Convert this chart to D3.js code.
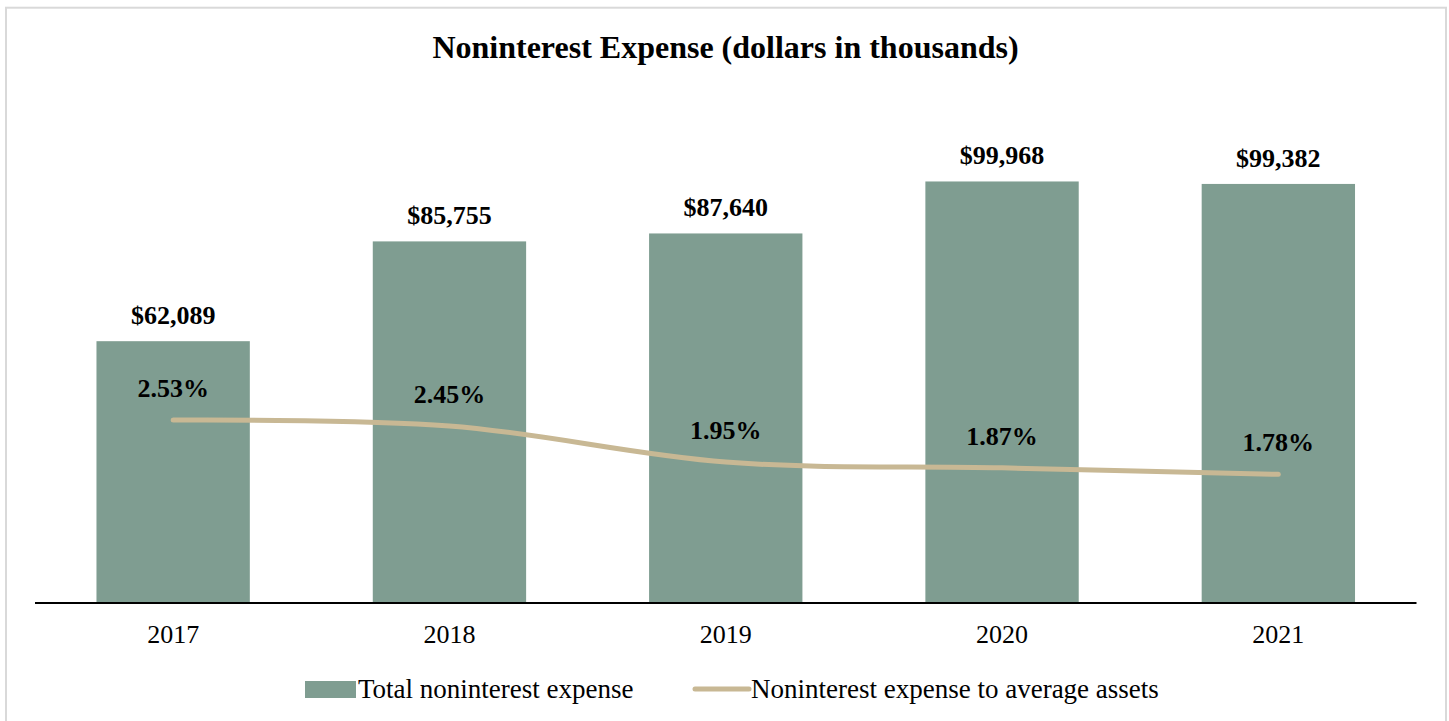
<!DOCTYPE html>
<html>
<head>
<meta charset="utf-8">
<script src="https://cdn.jsdelivr.net/npm/d3@7/dist/d3.min.js"></script>
<style>
  html, body { margin: 0; padding: 0; background: #ffffff; }
  svg { display: block; }
  text { font-family: "Liberation Serif", "Times New Roman", serif; fill: #000; }
</style>
</head>
<body>
<svg id="chart" width="1449" height="721"></svg>
<script>
// Noninterest expense, dollars in thousands, with ratio to average assets
const years = ["2017", "2018", "2019", "2020", "2021"];
const expense = [62089, 85755, 87640, 99968, 99382];
const ratioPct = [2.53, 2.45, 1.95, 1.87, 1.78];
const seriesNames = ["Total noninterest expense", "Noninterest expense to average assets"];
const chartTitle = "Noninterest Expense (dollars in thousands)";

const W = 1449, H = 721;
const plot = { left: 35, right: 1416.5, top: 97, bottom: 603 };
const barColor = "#7f9d91";
const lineColor = "#c8b894";

const svg = d3.select("#chart");

// outer frame
svg.append("rect")
  .attr("x", 6).attr("y", 7.7)
  .attr("width", 1440).attr("height", 720)
  .attr("fill", "none")
  .attr("stroke", "#d9d9d9")
  .attr("stroke-width", 2);

svg.append("text")
  .attr("x", 725.5).attr("y", 58)
  .attr("text-anchor", "middle")
  .attr("font-size", 32)
  .attr("font-weight", "bold")
  .text(chartTitle);

const x = d3.scaleBand()
  .domain(years)
  .range([plot.left, plot.right])
  .paddingInner(0.445)
  .paddingOuter(0.2225);

const y = d3.scaleLinear().domain([0, 120000]).range([plot.bottom, plot.top]);
const y2 = d3.scaleLinear().domain([0, 7]).range([plot.bottom, plot.top]);

const rows = years.map((yr, i) => ({ year: yr, expense: expense[i], ratio: ratioPct[i] }));

// bars
svg.append("g").selectAll("rect")
  .data(rows)
  .join("rect")
  .attr("x", d => x(d.year))
  .attr("y", d => y(d.expense))
  .attr("width", x.bandwidth())
  .attr("height", d => y(0) - y(d.expense))
  .attr("fill", barColor);

// category axis
const xAxis = svg.append("g")
  .attr("transform", `translate(0,${plot.bottom})`)
  .call(d3.axisBottom(x).tickSize(0).tickPadding(0).tickSizeOuter(0));
xAxis.select(".domain")
  .attr("stroke", "#000")
  .attr("stroke-width", 2)
  .attr("d", `M${plot.left},0H${plot.right}`);
xAxis.selectAll(".tick text")
  .attr("font-size", 26)
  .attr("font-family", "Liberation Serif, Times New Roman, serif")
  .attr("fill", "#000")
  .attr("dy", null)
  .attr("y", 40);

// smoothed ratio line
const line = d3.line()
  .x(d => x(d.year) + x.bandwidth() / 2)
  .y(d => y2(d.ratio))
  .curve(d3.curveCardinal.tension(0));

svg.append("path")
  .datum(rows)
  .attr("d", line)
  .attr("fill", "none")
  .attr("stroke", lineColor)
  .attr("stroke-width", 5)
  .attr("stroke-linecap", "round");

// value labels
const fmt = d3.format(",");
svg.append("g").selectAll("text")
  .data(rows)
  .join("text")
  .attr("x", d => x(d.year) + x.bandwidth() / 2)
  .attr("y", d => y(d.expense) - 17)
  .attr("text-anchor", "middle")
  .attr("font-size", 26)
  .attr("font-weight", "bold")
  .text(d => "$" + fmt(d.expense));

svg.append("g").selectAll("text")
  .data(rows)
  .join("text")
  .attr("x", d => x(d.year) + x.bandwidth() / 2)
  .attr("y", d => y2(d.ratio) - 23)
  .attr("text-anchor", "middle")
  .attr("font-size", 26)
  .attr("font-weight", "bold")
  .text(d => d.ratio.toFixed(2) + "%");

// legend
const legend = svg.append("g");
legend.append("rect")
  .attr("x", 305).attr("y", 681)
  .attr("width", 51).attr("height", 17)
  .attr("fill", barColor);
legend.append("text")
  .attr("x", 358).attr("y", 698)
  .attr("font-size", 27)
  .text(seriesNames[0]);
legend.append("line")
  .attr("x1", 695).attr("x2", 749)
  .attr("y1", 689).attr("y2", 689)
  .attr("stroke", lineColor)
  .attr("stroke-width", 5)
  .attr("stroke-linecap", "round");
legend.append("text")
  .attr("x", 751).attr("y", 698)
  .attr("font-size", 27)
  .text(seriesNames[1]);
</script>
</body>
</html>
